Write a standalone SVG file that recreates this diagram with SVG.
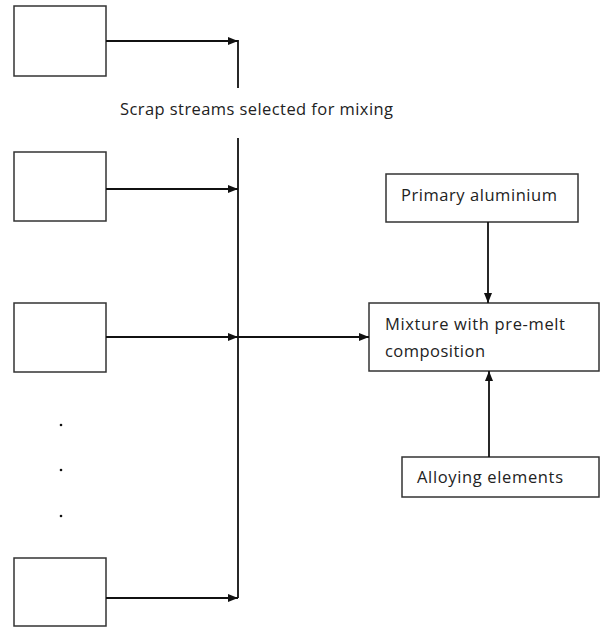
<svg xmlns="http://www.w3.org/2000/svg" width="600" height="627" viewBox="0 0 600 627">
<defs>
<marker id="arr" markerWidth="10" markerHeight="8" refX="10" refY="4" orient="auto" markerUnits="userSpaceOnUse">
<path d="M0,0 L10,4 L0,8 Z" fill="#111"/>
</marker>
<style>
.box{fill:#fff;stroke:#333;stroke-width:1.5}
.ln{stroke:#111;stroke-width:1.8;fill:none}
.t{font-family:"Open Sans","Noto Sans",sans-serif;font-size:16.5px;fill:#222}
</style>
</defs>
<rect width="600" height="627" fill="#fff"/>
<g id="scrap1"><rect class="box" x="14" y="6" width="92" height="70"/></g>
<g id="scrap2"><rect class="box" x="14" y="152" width="92" height="69"/></g>
<g id="scrap3"><rect class="box" x="14" y="303" width="92" height="69"/></g>
<g id="scrapN"><rect class="box" x="14" y="558" width="92" height="68"/></g>
<g id="dots" fill="#111">
<circle cx="61" cy="425" r="1.3"/><circle cx="61" cy="470" r="1.3"/><circle cx="61" cy="516" r="1.3"/>
</g>
<g id="primary"><rect class="box" x="386" y="174" width="192" height="48"/><text class="t" x="401" y="201" textLength="156">Primary aluminium</text></g>
<g id="mixture"><rect class="box" x="369" y="303" width="230" height="68"/><text class="t" x="385" y="330" textLength="180">Mixture with pre-melt</text><text class="t" x="385" y="357" textLength="100">composition</text></g>
<g id="alloying"><rect class="box" x="402" y="457" width="197" height="40"/><text class="t" x="417" y="483" textLength="146">Alloying elements</text></g>
<g id="label"><text class="t" x="120" y="115" textLength="273">Scrap streams selected for mixing</text></g>
<g id="connectors">
<line class="ln" x1="238" y1="40" x2="238" y2="88"/>
<line class="ln" x1="238" y1="138" x2="238" y2="598"/>
<line class="ln" x1="106" y1="41" x2="238" y2="41" marker-end="url(#arr)"/>
<line class="ln" x1="106" y1="189" x2="238" y2="189" marker-end="url(#arr)"/>
<line class="ln" x1="106" y1="337" x2="238" y2="337" marker-end="url(#arr)"/>
<line class="ln" x1="106" y1="598" x2="238" y2="598" marker-end="url(#arr)"/>
<line class="ln" x1="238" y1="337" x2="369" y2="337" marker-end="url(#arr)"/>
<line class="ln" x1="488" y1="222" x2="488" y2="303" marker-end="url(#arr)"/>
<line class="ln" x1="489" y1="457" x2="489" y2="371" marker-end="url(#arr)"/>
</g>
</svg>
